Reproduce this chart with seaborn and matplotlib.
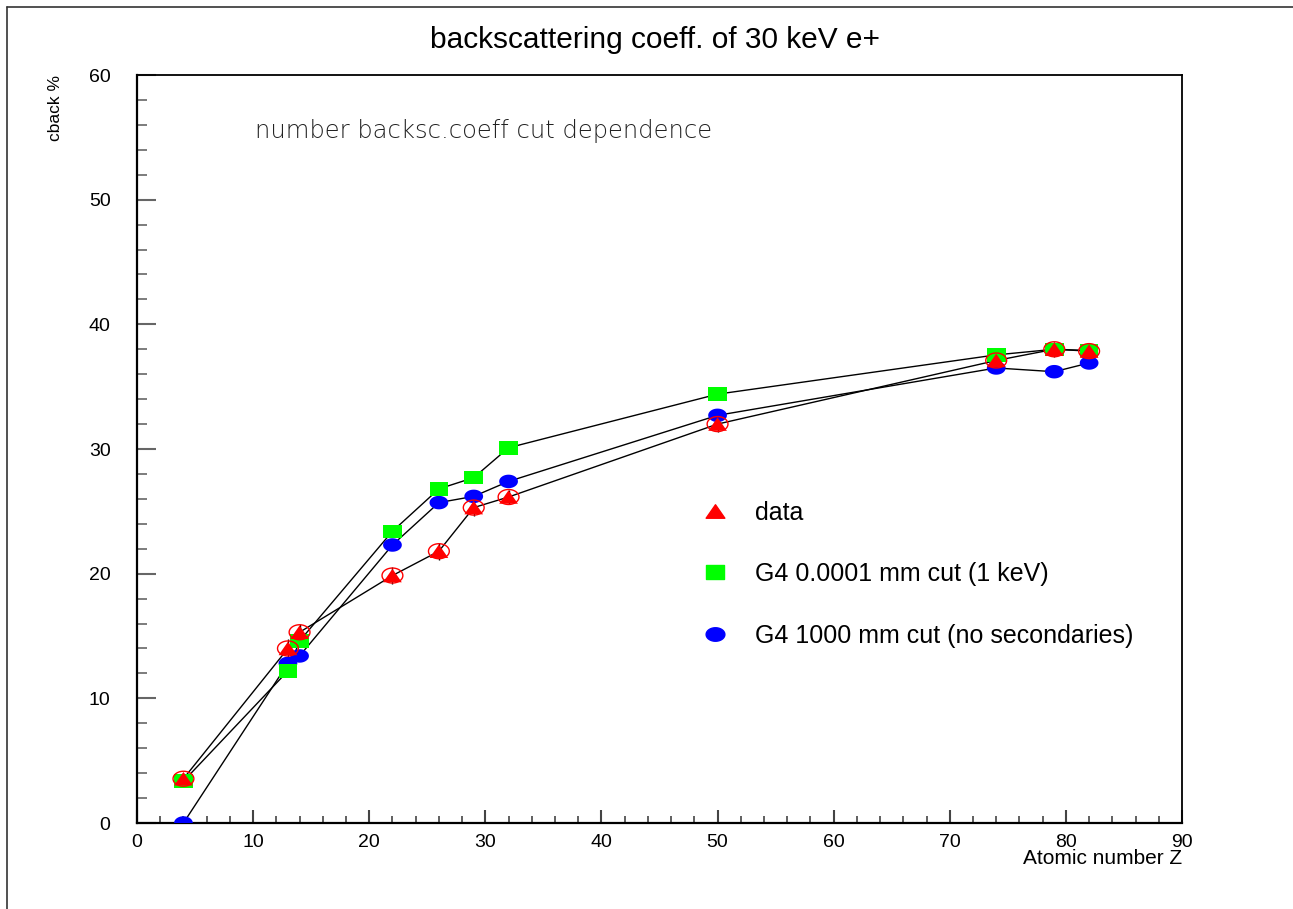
import numpy as np
import matplotlib
matplotlib.use("Agg")
import matplotlib.pyplot as plt
from matplotlib.path import Path
from matplotlib.lines import Line2D
import seaborn as sns
import pandas as pd

# ---- data ----
atomic_z = [4, 13, 14, 22, 26, 29, 32, 50, 74, 79, 82]
data_vals = [3.55, 14.0, 15.3, 19.85, 21.8, 25.3, 26.15, 32.0, 37.1, 38.0, 37.85]
data_err = [0.5, 0.75, 0.7, 0.7, 0.7, 0.7, 0.6, 0.6, 0.6, 0.6, 0.6]
g4_1kev = [3.35, 12.2, 14.6, 23.4, 26.8, 27.7, 30.1, 34.4, 37.55, 38.0, 37.9]
g4_nosec = [0.0, 12.8, 13.4, 22.3, 25.7, 26.2, 27.4, 32.7, 36.5, 36.2, 36.9]

title = "backscattering coeff. of 30 keV e+"
xlabel = "Atomic number Z"
ylabel = "cback %"
note = "number backsc.coeff cut dependence"
labels = ["data", "G4 0.0001 mm cut (1 keV)", "G4 1000 mm cut (no secondaries)"]
xticks = [0, 10, 20, 30, 40, 50, 60, 70, 80, 90]
yticks = [0, 10, 20, 30, 40, 50, 60]

sns.set_theme(style="white")
plt.rcParams["font.family"] = ["Liberation Sans", "DejaVu Sans"]
plt.rcParams["text.color"] = "black"

W, H = 1293, 909
fig = plt.figure(figsize=(W / 100, H / 100), dpi=100)
ax = fig.add_axes([137 / W, 1 - 823 / H, (1182 - 137) / W, (823 - 75) / H])

# flattened marker shapes (as in the reference)
sq = 0.72
tri_path = Path([(-1, -sq), (1, -sq), (0, sq), (-1, -sq)], closed=True)
sq_path = Path([(-1, -sq), (1, -sq), (1, sq), (-1, sq), (-1, -sq)], closed=True)
t = np.linspace(0, 2 * np.pi, 60)
ell_path = Path(np.column_stack([np.cos(t), sq * np.sin(t)]), closed=True)

df = pd.DataFrame({"Z": atomic_z, "data": data_vals, "g1": g4_1kev, "g2": g4_nosec})

for col in ["g2", "g1", "data"]:
    sns.lineplot(data=df, x="Z", y=col, ax=ax, color="black", lw=1.0,
                 estimator=None, sort=False, zorder=2)

ax.errorbar(atomic_z, data_vals, yerr=data_err, fmt="none", ecolor="black",
            elinewidth=1.0, zorder=3)

ms = 13.5
sns.scatterplot(data=df, x="Z", y="g2", ax=ax, marker=ell_path, s=ms ** 2,
                color="#0000ff", edgecolor="none", zorder=4)
sns.scatterplot(data=df, x="Z", y="g1", ax=ax, marker=sq_path, s=ms ** 2,
                color="#00ff00", edgecolor="none", zorder=5)
ax.scatter(atomic_z, data_vals, marker=ell_path, s=(ms + 1.5) ** 2,
           facecolors="none", edgecolors="red", linewidths=1.0, zorder=6)
sns.scatterplot(data=df, x="Z", y="data", ax=ax, marker=tri_path, s=ms ** 2,
                color="red", edgecolor="none", zorder=7)

ax.set_xlim(0, 90)
ax.set_ylim(0, 60)
ax.set_xlabel("")
ax.set_ylabel("")
ax.set_xticks(xticks)
ax.set_yticks(yticks)
ax.set_xticks(np.arange(0, 91, 2), minor=True)
ax.set_yticks(np.arange(0, 61, 2), minor=True)
ax.tick_params(axis="x", which="major", direction="in", length=9.5, width=1.5,
               color="#444444", labelsize=14, pad=8, bottom=True, labelcolor="black")
ax.tick_params(axis="x", which="minor", direction="in", length=5, width=1.2,
               color="#444444", bottom=True)
ax.tick_params(axis="y", which="major", direction="in", length=13.5, width=1.5,
               color="#666666", labelsize=14, pad=19, left=True, labelcolor="black")
ax.tick_params(axis="y", which="minor", direction="in", length=7, width=1.2,
               color="#666666", left=True)
for s in ["left", "bottom"]:
    ax.spines[s].set_linewidth(1.6)
    ax.spines[s].set_color("black")
for s in ["top", "right"]:
    ax.spines[s].set_linewidth(1.3)
    ax.spines[s].set_color("black")
ax.grid(False)

fig.text(655 / W, 1 - 40 / H, title, ha="center", va="center", fontsize=21.5)
fig.text(1182 / W, 1 - 859 / H, xlabel, ha="right", va="center", fontsize=15)
fig.text(55 / W, 1 - 75 / H, ylabel, ha="center", va="top", rotation=90, fontsize=12.5)
ax.text((255 - 137) / (1182 - 137), (823 - 131) / (823 - 75), note,
        transform=ax.transAxes, ha="left", va="center", fontsize=17.5,
        family=["DejaVu Sans"], fontweight="light", color="#222222")

handles = [
    Line2D([], [], marker=tri_path, color="red", ls="none", markersize=ms),
    Line2D([], [], marker=sq_path, color="#00ff00", ls="none", markersize=ms),
    Line2D([], [], marker=ell_path, color="#0000ff", ls="none", markersize=ms),
]
leg = ax.legend(handles, labels, loc="center left", frameon=False, fontsize=18,
                bbox_to_anchor=(700 / W, 1 - 574 / H), bbox_transform=fig.transFigure,
                handlelength=1.2, handletextpad=1.0, labelspacing=1.5,
                borderpad=0, borderaxespad=0)

# canvas frame (top and left edges)
fig.add_artist(Line2D([7 / W, 1], [1 - 7 / H, 1 - 7 / H], transform=fig.transFigure,
                      color="#333333", lw=1.2))
fig.add_artist(Line2D([7 / W, 7 / W], [0, 1 - 7 / H], transform=fig.transFigure,
                      color="#333333", lw=1.2))

fig.savefig("out.png", dpi=100, facecolor="white")
